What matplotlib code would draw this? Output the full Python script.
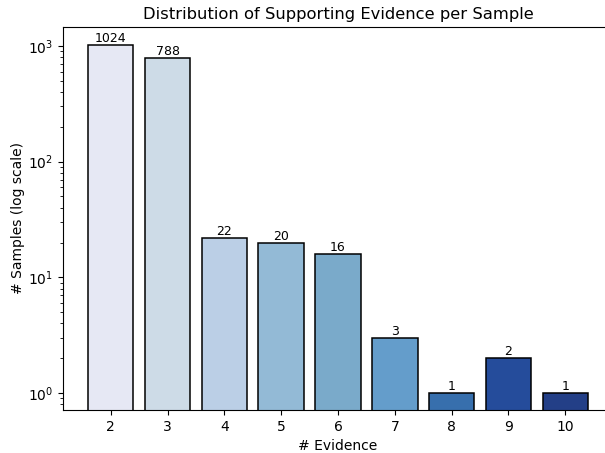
import matplotlib
matplotlib.use("Agg")
import matplotlib.pyplot as plt

evidence = [2, 3, 4, 5, 6, 7, 8, 9, 10]
counts = [1024, 788, 22, 20, 16, 3, 1, 2, 1]
colors = ["#e6e8f4", "#cddbe7", "#bbcfe6", "#93bad6", "#7aaaca",
          "#649dcb", "#376fad", "#254c9b", "#233f87"]

fig = plt.figure(figsize=(6.05, 4.53), dpi=100)
W, H = 605, 453
left, right, top, bottom = 63, 613, 27, 410
ax = fig.add_axes([left / W, 1 - bottom / H, (right - left) / W, (bottom - top) / H])

bars = ax.bar(evidence, counts, width=0.8, color=colors, edgecolor="black", linewidth=1.1)
ax.set_yscale("log")
ax.set_ylim(0.713, 1459)
ax.set_xlim(1.16, 10.84)
ax.set_xticks(evidence)
ax.set_xticklabels([str(e) for e in evidence])
for x, c in zip(evidence, counts):
    ax.text(x, c, str(c), ha="center", va="bottom", fontsize=9)

ax.set_title("Distribution of Supporting Evidence per Sample", fontsize=11.75)
ax.set_xlabel("# Evidence", fontsize=10)
ax.set_ylabel("# Samples (log scale)", fontsize=10, labelpad=2)
ax.tick_params(labelsize=10)
ax.spines["right"].set_visible(False)

fig.savefig("out.png", dpi=100)
